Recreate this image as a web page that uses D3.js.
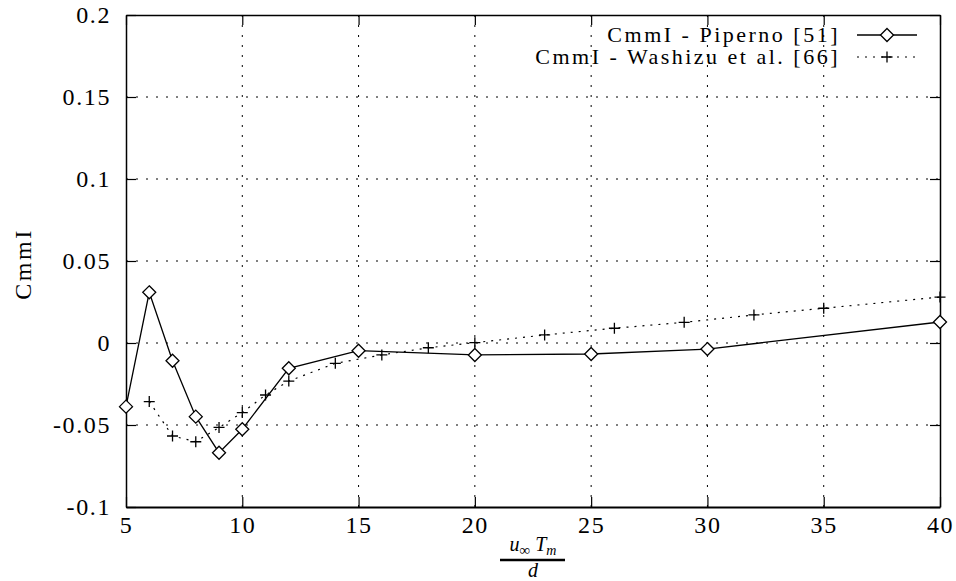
<!DOCTYPE html>
<html>
<head>
<meta charset="utf-8">
<script src="https://cdn.jsdelivr.net/npm/d3@7"></script>
<style>
  body { margin: 0; background: #fff; }
  text { font-family: "Liberation Serif", "DejaVu Serif", serif; fill: #000; }
</style>
</head>
<body>
<script>
// data
const pipernoX = [5, 6, 7, 8, 9, 10, 12, 15, 20, 25, 30, 40];
const pipernoY = [-0.0388, 0.0309, -0.0108, -0.0449, -0.0669, -0.0526, -0.0154, -0.0047, -0.0073, -0.0067, -0.0037, 0.0128];
const washizuX = [6, 7, 8, 9, 10, 11, 12, 14, 16, 18, 20, 23, 26, 29, 32, 35, 40];
const washizuY = [-0.0357, -0.0567, -0.0602, -0.0515, -0.0424, -0.0317, -0.0232, -0.0124, -0.0073, -0.0029, 0.0002, 0.0049, 0.009, 0.0126, 0.0171, 0.0212, 0.028];
const xTicks = [5, 10, 15, 20, 25, 30, 35, 40];
const yTicks = [-0.1, -0.05, 0, 0.05, 0.1, 0.15, 0.2];
const yTickLabels = ["-0.1", "-0.05", "0", "0.05", "0.1", "0.15", "0.2"];
const seriesNames = ["CmmI - Piperno [51]", "CmmI - Washizu et al. [66]"];

const width = 956, height = 581;
const margin = {top: 15, right: 16, bottom: 74, left: 126};
const fontSize = 24, spacing = 1.6;

const svg = d3.select("body").append("svg")
  .attr("width", width)
  .attr("height", height);

const x = d3.scaleLinear().domain([5, 40]).range([margin.left, width - margin.right]);
const y = d3.scaleLinear().domain([-0.1, 0.2]).range([height - margin.bottom, margin.top]);
const tick = 10;

// grid
const grid = svg.append("g").attr("stroke", "#000").attr("stroke-width", 1).attr("stroke-dasharray", "2,8");
grid.selectAll(".gx").data(xTicks.slice(1, -1)).enter().append("line")
  .attr("x1", d => x(d)).attr("x2", d => x(d))
  .attr("y1", y(-0.1)).attr("y2", y(0.2));
grid.selectAll(".gy").data(yTicks.slice(1, -1)).enter().append("line")
  .attr("x1", x(5)).attr("x2", x(40))
  .attr("y1", d => y(d)).attr("y2", d => y(d));

// axes, ticks inward and mirrored
const xAxis = d3.axisBottom(x).tickValues(xTicks).tickSizeInner(-tick).tickSizeOuter(0).tickPadding(9);
const yAxis = d3.axisLeft(y).tickValues(yTicks).tickSizeInner(-tick).tickSizeOuter(0).tickPadding(15)
  .tickFormat((d, i) => yTickLabels[i]);

const gx = svg.append("g").attr("transform", `translate(0,${y(-0.1)})`).call(xAxis);
const gy = svg.append("g").attr("transform", `translate(${x(5)},0)`).call(yAxis);
svg.append("g").attr("transform", `translate(0,${y(0.2)})`)
  .call(d3.axisTop(x).tickValues(xTicks).tickSizeInner(-tick).tickSizeOuter(0).tickFormat(""));
svg.append("g").attr("transform", `translate(${x(40)},0)`)
  .call(d3.axisRight(y).tickValues(yTicks).tickSizeInner(-tick).tickSizeOuter(0).tickFormat(""));

svg.selectAll(".domain").attr("stroke", "#000").attr("stroke-width", 1.5);
svg.selectAll(".tick line").attr("stroke", "#000").attr("stroke-width", 1.2);
svg.selectAll(".tick text")
  .attr("font-size", fontSize)
  .attr("font-family", "Liberation Serif")
  .attr("letter-spacing", spacing);
gx.select(".domain").attr("stroke-width", 2);

// y label, rotated
svg.append("text")
  .attr("transform", `translate(31,264) rotate(-90)`)
  .attr("text-anchor", "middle").attr("font-size", fontSize).attr("letter-spacing", 2.5)
  .text("CmmI");

// x label as a fraction
const xl = svg.append("g").attr("transform", "translate(533,0)");
const num = xl.append("text").attr("x", 0).attr("y", 551).attr("text-anchor", "middle")
  .attr("font-size", 20).attr("font-style", "italic");
num.append("tspan").text("u");
num.append("tspan").attr("font-size", 15).attr("dy", 4).attr("font-style", "normal").text("∞");
num.append("tspan").attr("dy", -4).text(" T");
num.append("tspan").attr("font-size", 14).attr("dy", 4).text("m");
xl.append("line").attr("x1", -33).attr("x2", 32).attr("y1", 560).attr("y2", 560)
  .attr("stroke", "#000").attr("stroke-width", 2.5);
xl.append("text").attr("x", 0).attr("y", 577).attr("text-anchor", "middle")
  .attr("font-size", 20).attr("font-style", "italic").text("d");

const piperno = pipernoX.map((d, i) => ({x: d, y: pipernoY[i]}));
const washizu = washizuX.map((d, i) => ({x: d, y: washizuY[i]}));
const line = d3.line().x(d => x(d.x)).y(d => y(d.y));

svg.append("path").datum(washizu).attr("d", line)
  .attr("fill", "none").attr("stroke", "#000").attr("stroke-width", 1.2).attr("stroke-dasharray", "2,6");
svg.append("path").datum(piperno).attr("d", line)
  .attr("fill", "none").attr("stroke", "#000").attr("stroke-width", 1.3);

const diamond = "M0,-6.5L6.5,0L0,6.5L-6.5,0Z";
const plus = "M-5.5,0H5.5M0,-5.5V5.5";

svg.selectAll(".dm").data(piperno).enter().append("path")
  .attr("transform", d => `translate(${x(d.x)},${y(d.y)})`)
  .attr("d", diamond).attr("fill", "#fff").attr("stroke", "#000").attr("stroke-width", 1.3);
svg.selectAll(".pl").data(washizu).enter().append("path")
  .attr("transform", d => `translate(${x(d.x)},${y(d.y)})`)
  .attr("d", plus).attr("fill", "none").attr("stroke", "#000").attr("stroke-width", 1.3);

// legend
const leg = svg.append("g");
const lx1 = 857, lx2 = 917, ly = [35, 57];
leg.selectAll(".lt").data(seriesNames).enter().append("text")
  .attr("x", 840).attr("y", (d, i) => ly[i] + 7)
  .attr("text-anchor", "end").attr("font-size", 22).attr("letter-spacing", 2.5)
  .text(d => d);
leg.append("line").attr("x1", lx1).attr("x2", lx2).attr("y1", ly[0]).attr("y2", ly[0])
  .attr("stroke", "#000").attr("stroke-width", 1.3);
leg.append("path").attr("transform", `translate(${(lx1 + lx2) / 2},${ly[0]})`).attr("d", diamond)
  .attr("fill", "#fff").attr("stroke", "#000").attr("stroke-width", 1.3);
leg.append("line").attr("x1", lx1).attr("x2", lx2).attr("y1", ly[1]).attr("y2", ly[1])
  .attr("stroke", "#000").attr("stroke-width", 1.2).attr("stroke-dasharray", "2,6");
leg.append("path").attr("transform", `translate(${(lx1 + lx2) / 2},${ly[1]})`).attr("d", plus)
  .attr("fill", "none").attr("stroke", "#000").attr("stroke-width", 1.3);
</script>
</body>
</html>
